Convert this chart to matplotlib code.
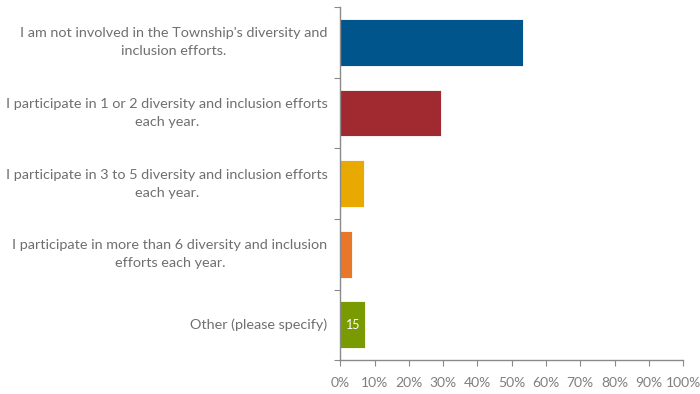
import numpy as np
import matplotlib.pyplot as plt
from matplotlib.ticker import MultipleLocator, PercentFormatter

plt.rcParams['font.family'] = ['Lato', 'DejaVu Sans']

labels = ["I am not involved in the Township's diversity and\ninclusion efforts.",
          "I participate in 1 or 2 diversity and inclusion efforts\neach year.",
          "I participate in 3 to 5 diversity and inclusion efforts\neach year.",
          "I participate in more than 6 diversity and inclusion\nefforts each year.",
          "Other (please specify)"]
counts = [109, 60, 14, 7, 15]
colors = ['#00558C', '#A12A30', '#E8A900', '#E8772A', '#7A9A01']

pct = np.array(counts) / sum(counts) * 100

fig = plt.figure(figsize=(7, 3.94), dpi=100)
ax = fig.add_axes([0.486, 0.086, 0.49, 0.896])

y = np.arange(len(labels))
bars = ax.barh(y, pct, height=0.665, color=colors, edgecolor='white', linewidth=0.6)
ax.set_ylim(len(labels) - 0.5, -0.5)
ax.set_xlim(0, 100)

# only the "Other" bar carries a data label
ax.text(pct[4] / 2, y[4], str(counts[4]), color='white', fontsize=9,
        ha='center', va='center')

gray = '#8a8a8a'
for s in ['top', 'right']:
    ax.spines[s].set_visible(False)
for s in ['left', 'bottom']:
    ax.spines[s].set_color(gray)
    ax.spines[s].set_linewidth(1)

ax.xaxis.set_major_locator(MultipleLocator(10))
ax.xaxis.set_major_formatter(PercentFormatter(decimals=0))
ax.tick_params(axis='x', colors=gray, labelcolor='#7f7f7f', labelsize=10,
               length=4, pad=8)

# category ticks sit on the boundaries, labels in between
ax.set_yticks(np.arange(-0.5, len(labels), 1))
ax.set_yticklabels([])
ax.tick_params(axis='y', colors=gray, length=4)
for yi, lab in zip(y, labels):
    ax.text(-0.037, yi, lab, transform=ax.get_yaxis_transform(), ha='right',
            va='center', multialignment='center', fontsize=10.4,
            color='#6f6f6f', linespacing=1.6)

fig.savefig('out.png')
